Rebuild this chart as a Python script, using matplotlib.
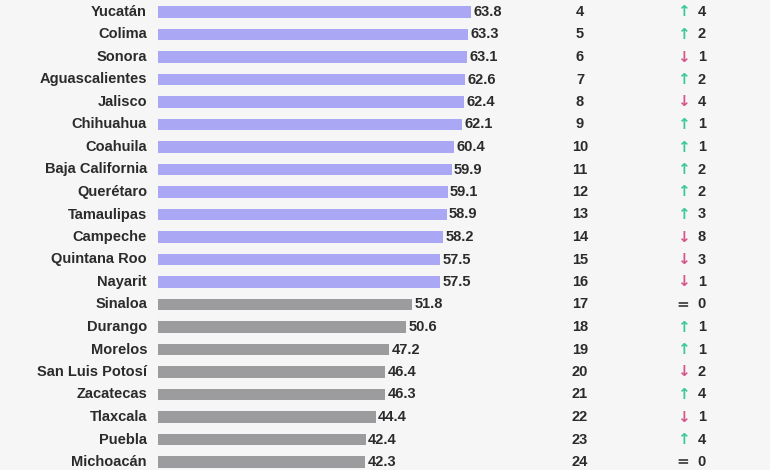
import matplotlib
matplotlib.use("Agg")
import matplotlib.pyplot as plt
from matplotlib.transforms import blended_transform_factory

states = ["Yucatán", "Colima", "Sonora", "Aguascalientes", "Jalisco", "Chihuahua",
          "Coahuila", "Baja California", "Querétaro", "Tamaulipas", "Campeche",
          "Quintana Roo", "Nayarit", "Sinaloa", "Durango", "Morelos",
          "San Luis Potosí", "Zacatecas", "Tlaxcala", "Puebla", "Michoacán"]
values = [63.8, 63.3, 63.1, 62.6, 62.4, 62.1, 60.4, 59.9, 59.1, 58.9, 58.2,
          57.5, 57.5, 51.8, 50.6, 47.2, 46.4, 46.3, 44.4, 42.4, 42.3]
ranks = list(range(4, 25))
changes = [4, 2, -1, 2, -4, 1, 1, 2, 2, 3, -8, -3, -1, 0, 1, 1, -2, 4, -1, 4, 0]
n_highlight = 13

bg = "#f6f6f6"
text_col = "#2b2b2b"
lavender = "#aaa7f4"
gray = "#9c9c9f"
green = "#3cc89a"
pink = "#d8558a"

plt.rcParams["font.family"] = ["Liberation Sans", "DejaVu Sans"]

fig = plt.figure(figsize=(7.7, 4.7), dpi=100, facecolor=bg)
ax = fig.add_axes([158 / 770, 0, 612 / 770, 1], facecolor=bg)

px_per_unit = 4.9
ax.set_xlim(0, 612 / px_per_unit)
ax.set_ylim((470 - 12) / 22.5, -12 / 22.5)

ypos = list(range(len(states)))
colors = [lavender if i < n_highlight else gray for i in ypos]
ax.barh(ypos, values, height=0.5, color=colors, zorder=2)

for y, v in zip(ypos, values):
    ax.text(v + 0.5, y, f"{v:.1f}", va="center", ha="left", fontsize=10.5,
            fontweight="bold", color=text_col)

for s in ax.spines.values():
    s.set_visible(False)
ax.axvline(-0.3, color="#dcdcdc", lw=0.8, zorder=1)
ax.set_xticks([])
ax.set_yticks([])

tr = blended_transform_factory(fig.transFigure, ax.transData)
for y, name, r, c in zip(ypos, states, ranks, changes):
    ax.text(147 / 770, y, name, transform=tr, ha="right", va="center",
            fontsize=10.5, fontweight="bold", color=text_col)
    ax.text(580 / 770, y, str(r), transform=tr, ha="center", va="center",
            fontsize=10.5, fontweight="bold", color=text_col)
    if c > 0:
        sym, col = "↑", green
    elif c < 0:
        sym, col = "↓", pink
    else:
        sym, col = "=", "#555555"
    ax.text(683 / 770, y, sym, transform=tr, ha="center", va="center",
            fontsize=11, fontweight="bold", color=col, family="DejaVu Sans")
    ax.text(702 / 770, y, str(abs(c)), transform=tr, ha="center", va="center",
            fontsize=10.5, fontweight="bold", color=text_col)

fig.savefig("out.png", dpi=100, facecolor=bg)
